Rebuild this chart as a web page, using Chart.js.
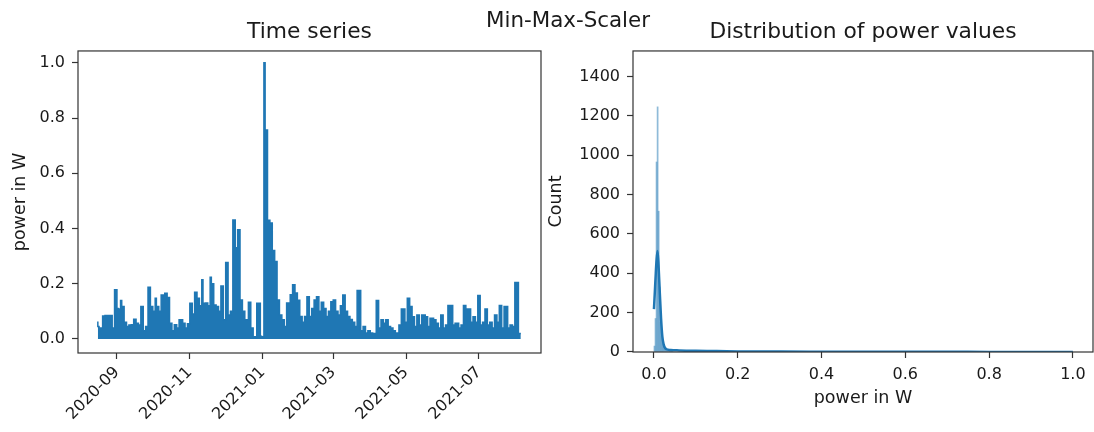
<!DOCTYPE html>
<html>
<head>
<meta charset="utf-8">
<script src="https://cdn.jsdelivr.net/npm/chart.js@4.4.1/dist/chart.umd.min.js"></script>
<style>
  body { margin: 0; background: #fff; width: 1094px; height: 432px; overflow: hidden; position: relative; font-family: "DejaVu Sans", sans-serif; }
  #left { position: absolute; left: 0; top: 0; }
  #right { position: absolute; left: 545px; top: 0; }
  #suptitle { position: absolute; left: 568px; top: 8px; transform: translateX(-50%); font-size: 21.4px; line-height: 24px; color: #1a1a1a; white-space: nowrap; }
</style>
</head>
<body>
<canvas id="left" width="545" height="432"></canvas>
<canvas id="right" width="549" height="432"></canvas>
<div id="suptitle">Min-Max-Scaler</div>
<script>
// time series (upper envelope of the scaled power readings)
const tsDates = [
  '2020-08-16', '2020-08-17', '2020-08-18', '2020-08-20', '2020-08-22', '2020-08-25', '2020-08-28', '2020-08-30',
  '2020-09-01', '2020-09-02', '2020-09-04', '2020-09-05', '2020-09-07', '2020-09-09', '2020-09-11', '2020-09-13',
  '2020-09-15', '2020-09-17', '2020-09-19', '2020-09-21', '2020-09-23', '2020-09-25', '2020-09-27', '2020-09-29',
  '2020-10-01', '2020-10-03', '2020-10-04', '2020-10-06', '2020-10-08', '2020-10-11', '2020-10-13', '2020-10-15',
  '2020-10-17', '2020-10-19', '2020-10-21', '2020-10-23', '2020-10-26', '2020-10-28', '2020-10-30',
  '2020-11-01', '2020-11-03', '2020-11-05', '2020-11-07', '2020-11-09', '2020-11-11', '2020-11-12', '2020-11-14',
  '2020-11-16', '2020-11-18', '2020-11-19', '2020-11-21', '2020-11-23', '2020-11-25', '2020-11-27', '2020-11-29',
  '2020-12-01', '2020-12-03', '2020-12-05', '2020-12-07', '2020-12-09', '2020-12-11', '2020-12-13', '2020-12-15',
  '2020-12-17', '2020-12-20', '2020-12-22', '2020-12-24', '2020-12-27', '2020-12-30', '2020-12-31',
  '2021-01-02', '2021-01-03', '2021-01-05', '2021-01-07', '2021-01-09', '2021-01-11', '2021-01-13', '2021-01-15',
  '2021-01-17', '2021-01-19', '2021-01-21', '2021-01-24', '2021-01-26', '2021-01-28', '2021-01-30',
  '2021-02-01', '2021-02-03', '2021-02-05', '2021-02-07', '2021-02-09', '2021-02-11', '2021-02-13', '2021-02-15',
  '2021-02-17', '2021-02-19', '2021-02-21', '2021-02-23', '2021-02-25', '2021-02-27',
  '2021-03-01', '2021-03-03', '2021-03-05', '2021-03-07', '2021-03-09', '2021-03-11', '2021-03-13', '2021-03-15',
  '2021-03-17', '2021-03-19', '2021-03-21', '2021-03-24', '2021-03-26', '2021-03-28', '2021-03-30',
  '2021-04-01', '2021-04-03', '2021-04-06', '2021-04-08', '2021-04-10', '2021-04-12', '2021-04-14', '2021-04-16',
  '2021-04-18', '2021-04-20', '2021-04-22', '2021-04-25', '2021-04-27', '2021-04-30',
  '2021-05-02', '2021-05-04', '2021-05-06', '2021-05-08', '2021-05-10', '2021-05-12', '2021-05-14', '2021-05-17',
  '2021-05-19', '2021-05-21', '2021-05-24', '2021-05-26', '2021-05-28', '2021-05-30',
  '2021-06-01', '2021-06-03', '2021-06-05', '2021-06-07', '2021-06-09', '2021-06-11', '2021-06-14', '2021-06-16',
  '2021-06-18', '2021-06-20', '2021-06-22', '2021-06-24', '2021-06-26', '2021-06-28', '2021-06-30',
  '2021-07-02', '2021-07-04', '2021-07-06', '2021-07-08', '2021-07-10', '2021-07-12', '2021-07-14', '2021-07-16',
  '2021-07-18', '2021-07-20', '2021-07-22', '2021-07-25', '2021-07-27', '2021-07-29', '2021-07-31',
  '2021-08-03', '2021-08-05'
];
const tsValues = [
  0.063, 0.045, 0.030, 0.040, 0.083, 0.085, 0.085, 0.040,
  0.178, 0.110, 0.108, 0.139, 0.117, 0.060, 0.045, 0.050,
  0.051, 0.071, 0.057, 0.050, 0.117, 0.030, 0.045, 0.187,
  0.117, 0.100, 0.147, 0.117, 0.100, 0.159, 0.165, 0.150,
  0.057, 0.030, 0.051, 0.040, 0.069, 0.057, 0.040,
  0.055, 0.129, 0.090, 0.169, 0.147, 0.120, 0.214, 0.129,
  0.130, 0.120, 0.223, 0.200, 0.123, 0.117, 0.100, 0.192,
  0.069, 0.277, 0.087, 0.100, 0.431, 0.330, 0.395, 0.141,
  0.100, 0.069, 0.133, 0.040, 0.008, 0.129, 0.010,
  0.008, 1.000, 0.757, 0.430, 0.420, 0.320, 0.280, 0.141,
  0.087, 0.069, 0.045, 0.130, 0.160, 0.196, 0.166,
  0.140, 0.081, 0.060, 0.081, 0.153, 0.081, 0.110, 0.141,
  0.153, 0.100, 0.133, 0.110, 0.081, 0.100,
  0.135, 0.141, 0.100, 0.087, 0.120, 0.159, 0.100, 0.081,
  0.070, 0.060, 0.045, 0.175, 0.030, 0.045, 0.021,
  0.030, 0.021, 0.020, 0.139, 0.040, 0.069, 0.057, 0.069,
  0.045, 0.040, 0.030, 0.021, 0.050, 0.108,
  0.060, 0.147, 0.117, 0.080, 0.045, 0.087, 0.050, 0.087,
  0.080, 0.045, 0.075, 0.069, 0.057, 0.040,
  0.087, 0.040, 0.050, 0.121, 0.121, 0.050, 0.057, 0.040,
  0.050, 0.121, 0.108, 0.108, 0.060, 0.080, 0.060,
  0.157, 0.050, 0.060, 0.108, 0.050, 0.060, 0.040, 0.087,
  0.060, 0.121, 0.040, 0.117, 0.040, 0.050, 0.045,
  0.204, 0.020
];
const dateTicks = ['2020-09-01', '2020-11-01', '2021-01-01', '2021-03-01', '2021-05-01', '2021-07-01'];
const powerTicks = [0, 0.2, 0.4, 0.6, 0.8, 1.0];

// histogram + kde
const histBins = [0.00125, 0.00375, 0.00625, 0.00875, 0.01125, 0.01375, 0.01625, 0.01875, 0.02125, 0.02375,
  0.02625, 0.02875, 0.03125, 0.03375, 0.03625, 0.03875, 0.04125, 0.04375];
const histCounts = [30, 170, 965, 1245, 715, 330, 150, 80, 45, 30, 20, 15, 12, 10, 8, 8, 6, 5];
const kdeX = [0, 0.002, 0.004, 0.006, 0.0085, 0.011, 0.014, 0.017, 0.02, 0.023, 0.026, 0.03, 0.04, 0.06,
  0.1, 0.15, 0.2, 0.3, 0.4, 0.5, 0.6, 0.7, 0.8, 0.9, 1.0];
const kdeY = [218, 300, 385, 460, 513, 440, 300, 170, 80, 40, 22, 14, 10, 8, 6, 5, 3, 2, 1.5, 1, 1, 1, 0.5, 0.5, 0.5];
const countTicks = [0, 200, 400, 600, 800, 1000, 1200, 1400];
const shareTicks = [0, 0.2, 0.4, 0.6, 0.8, 1.0];

const DAY = 864e5;
const BLUE = '#1f77b4';
const textColor = '#1a1a1a';
const lineColor = '#333';
const tickFont = { family: 'DejaVu Sans', size: 16 };
const labelFont = { family: 'DejaVu Sans', size: 17.5 };
const titleFont = { family: 'DejaVu Sans', size: 21.8, weight: 'normal' };

function toDay(s) {
    return Date.parse(s) / DAY;
}

const framePlugin = {
    id: 'frame',
    afterDatasetsDraw(chart) {
        const { ctx, chartArea: a } = chart;
        ctx.save();
        ctx.strokeStyle = lineColor;
        ctx.lineWidth = 1.2;
        ctx.strokeRect(a.left, a.top, a.right - a.left, a.bottom - a.top);
        ctx.restore();
    }
};

function tickGrid() {
    return { drawOnChartArea: false, drawTicks: true, tickLength: 6, tickColor: lineColor, tickWidth: 1.2 };
}

function panelTitle(text) {
    return {
        display: true, text: text, fullSize: false, color: textColor, font: titleFont,
        padding: { top: 19, bottom: 5.8 }
    };
}

Chart.defaults.animation = false;

new Chart(document.getElementById('left'), {
    type: 'line',
    data: {
        datasets: [{
            data: tsDates.map((d, i) => ({ x: toDay(d), y: tsValues[i] })),
            borderColor: BLUE,
            backgroundColor: BLUE,
            borderWidth: 1.5,
            pointRadius: 0,
            stepped: 'after',
            fill: 'origin'
        }]
    },
    options: {
        responsive: false,
        layout: { padding: { left: 0, right: 4, top: 0, bottom: 0 } },
        plugins: { legend: { display: false }, tooltip: { enabled: false }, title: panelTitle('Time series') },
        scales: {
            x: {
                type: 'linear',
                min: toDay('2020-09-01') - 32.6,
                max: toDay('2021-07-01') + 51.9,
                grid: tickGrid(),
                border: { display: false },
                afterFit: s => { s.height = 79; },
                afterBuildTicks: s => { s.ticks = dateTicks.map(d => ({ value: toDay(d) })); },
                ticks: {
                    autoSkip: false, minRotation: 45, maxRotation: 45, padding: 4,
                    color: textColor, font: tickFont,
                    callback: v => new Date(v * DAY).toISOString().slice(0, 7)
                }
            },
            y: {
                min: -0.051,
                max: 1.043,
                grid: tickGrid(),
                border: { display: false },
                afterFit: s => { s.width = 78; },
                afterBuildTicks: s => { s.ticks = powerTicks.map(v => ({ value: v })); },
                ticks: { padding: 7, color: textColor, font: tickFont, callback: v => v.toFixed(1) },
                title: { display: true, text: 'power in W', color: textColor, font: labelFont, padding: { top: 10 } }
            }
        }
    },
    plugins: [framePlugin]
});

new Chart(document.getElementById('right'), {
    type: 'bar',
    data: {
        datasets: [
            {
                type: 'line',
                data: kdeX.map((x, i) => ({ x: x, y: kdeY[i] })),
                borderColor: BLUE,
                borderWidth: 2.5,
                pointRadius: 0,
                cubicInterpolationMode: 'monotone',
                order: 0
            },
            {
                type: 'bar',
                data: histBins.map((x, i) => ({ x: x, y: histCounts[i] })),
                backgroundColor: 'rgba(31, 119, 180, 0.5)',
                borderWidth: 0,
                barPercentage: 1,
                categoryPercentage: 1,
                order: 1
            }
        ]
    },
    options: {
        responsive: false,
        layout: { padding: { left: 0, right: 1, top: 0, bottom: 0 } },
        plugins: { legend: { display: false }, tooltip: { enabled: false }, title: panelTitle('Distribution of power values') },
        scales: {
            x: {
                type: 'linear',
                offset: false,
                min: -0.05,
                max: 1.048,
                grid: { ...tickGrid(), offset: false },
                border: { display: false },
                afterFit: s => { s.height = 80; },
                afterBuildTicks: s => { s.ticks = shareTicks.map(v => ({ value: v })); },
                ticks: { maxRotation: 0, padding: 7, color: textColor, font: tickFont, callback: v => v.toFixed(1) },
                title: { display: true, text: 'power in W', color: textColor, font: labelFont, padding: { bottom: 23 } }
            },
            y: {
                min: 0,
                max: 1529,
                grid: tickGrid(),
                border: { display: false },
                afterFit: s => { s.width = 88; },
                afterBuildTicks: s => { s.ticks = countTicks.map(v => ({ value: v })); },
                ticks: { padding: 7, color: textColor, font: tickFont, callback: v => String(v) },
                title: { display: true, text: 'Count', color: textColor, font: labelFont, padding: { top: 1 } }
            }
        }
    },
    plugins: [framePlugin]
});
</script>
</body>
</html>
